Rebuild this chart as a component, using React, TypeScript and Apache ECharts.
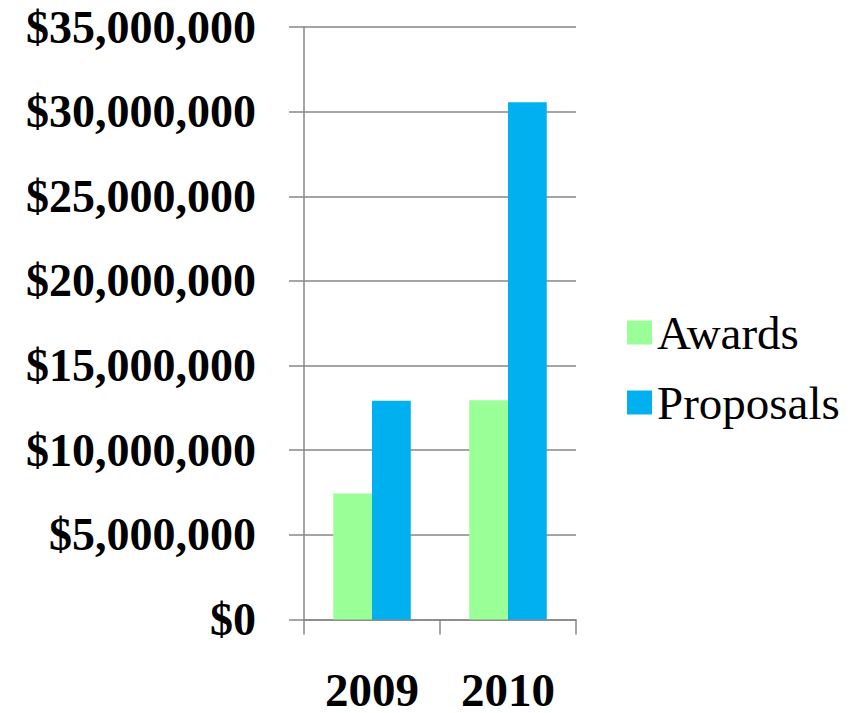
import React, { useEffect, useRef } from "react";
import * as echarts from "echarts";

const categories = ["2009", "2010"];
const awards = [7450000, 12950000];
const proposals = [12920000, 30550000];
const yTicks = { min: 0, max: 35000000, interval: 5000000 };

const fmt = (v: number) => "$" + v.toLocaleString("en-US");
const serif = "'Liberation Serif', 'Times New Roman', serif";

export default function App() {
  const ref = useRef<HTMLDivElement>(null);
  useEffect(() => {
    if (!ref.current) return;
    const chart = echarts.init(ref.current, undefined, { renderer: "svg" });
    const axisColor = "#878787";
    chart.setOption({
      animation: false,
      textStyle: { fontFamily: serif },
      grid: { left: 304, right: 286, top: 27, bottom: 92, containLabel: false },
      legend: {
        orient: "vertical",
        left: 622,
        top: 304,
        itemWidth: 25,
        itemHeight: 24,
        itemGap: 23,
        icon: "rect",
        textStyle: { fontSize: 47, color: "#000", fontFamily: serif },
        data: ["Awards", "Proposals"],
      },
      xAxis: {
        type: "category",
        data: categories,
        axisLine: { lineStyle: { color: axisColor, width: 1.5 } },
        axisTick: { show: true, length: 15, lineStyle: { color: axisColor, width: 1.5 } },
        axisLabel: {
          margin: 52,
          fontSize: 47,
          lineHeight: 36,
          fontWeight: "bold",
          color: "#000",
          fontFamily: serif,
        },
      },
      yAxis: {
        type: "value",
        min: yTicks.min,
        max: yTicks.max,
        interval: yTicks.interval,
        axisLine: { show: true, lineStyle: { color: axisColor, width: 1.5 } },
        axisTick: { show: true, length: 15, lineStyle: { color: axisColor, width: 1.5 } },
        splitLine: { show: true, lineStyle: { color: axisColor, width: 1.5 } },
        axisLabel: {
          margin: 48,
          fontSize: 46,
          fontWeight: "bold",
          color: "#000",
          formatter: (v: number) => fmt(v),
          fontFamily: serif,
        },
      },
      series: [
        {
          name: "Awards",
          type: "bar",
          data: awards,
          barGap: "0%",
          barCategoryGap: "43%",
          itemStyle: { color: "#9BFF97" },
        },
        {
          name: "Proposals",
          type: "bar",
          data: proposals,
          barGap: "0%",
          barCategoryGap: "43%",
          itemStyle: { color: "#00B0EF" },
        },
      ],
    });
    return () => chart.dispose();
  }, []);
  return <div ref={ref} style={{ width: 862, height: 713, position: "absolute", left: 0, top: 0 }} />;
}
